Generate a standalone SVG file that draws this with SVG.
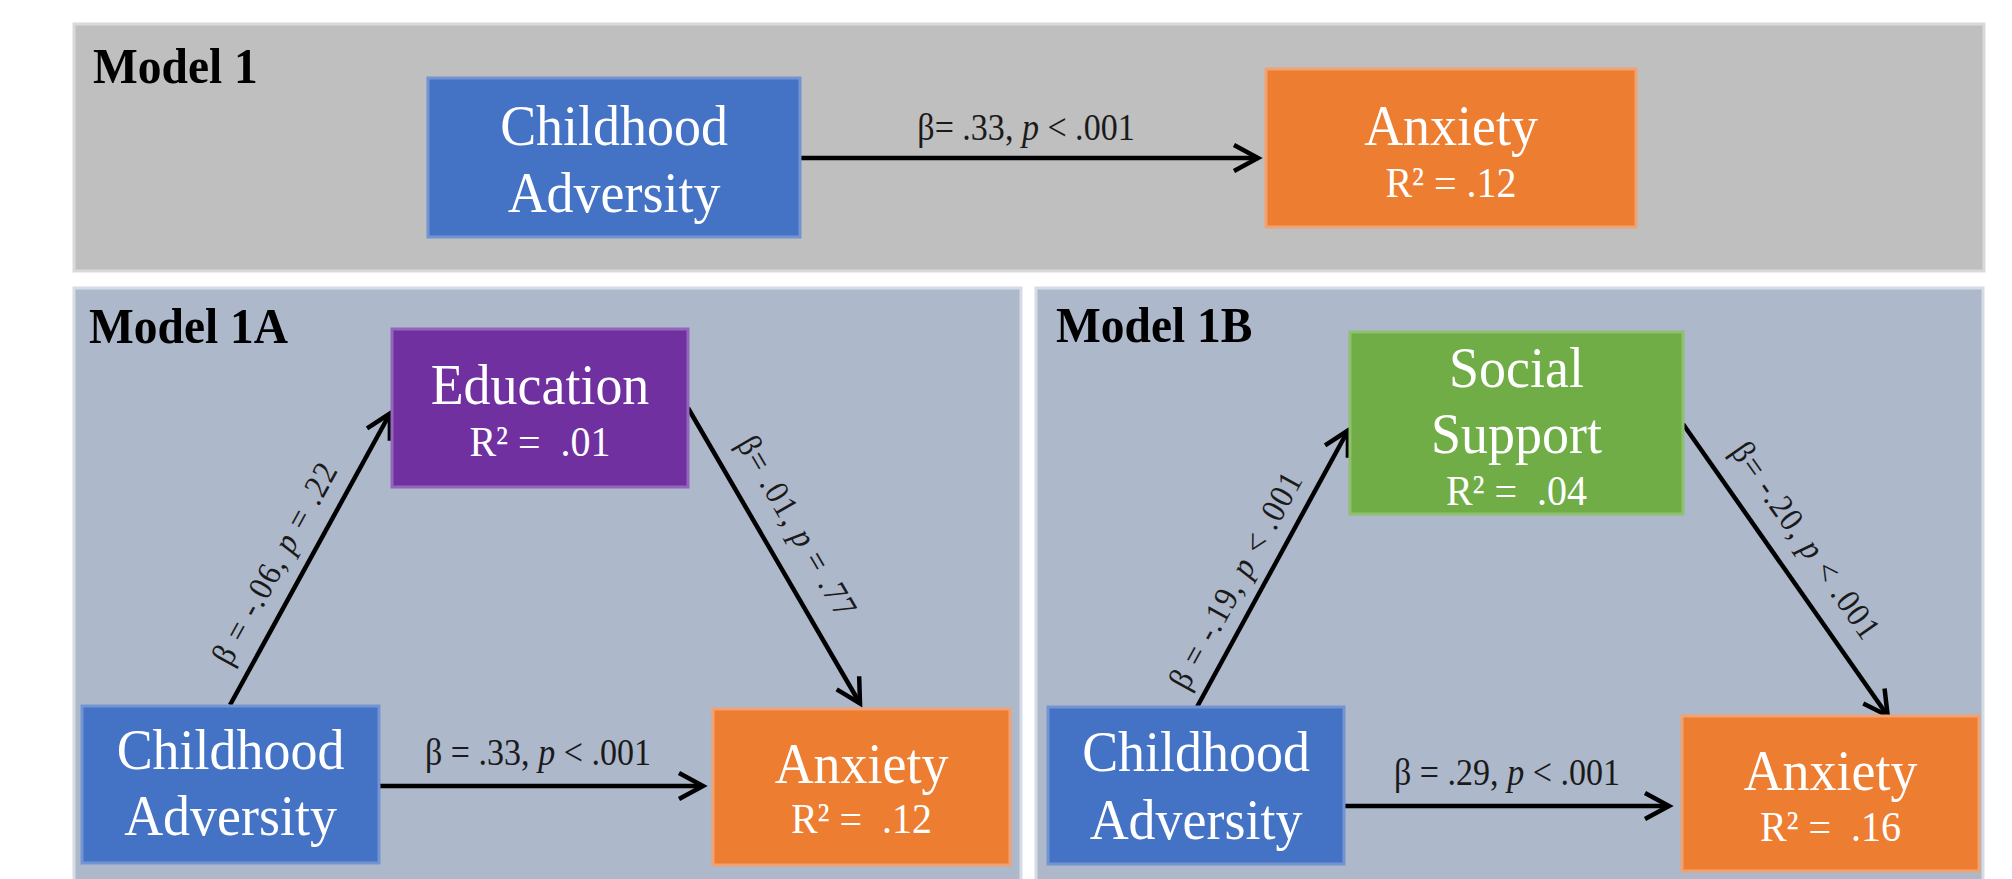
<svg xmlns="http://www.w3.org/2000/svg" width="2012" height="879" viewBox="0 0 2012 879">
<style>
.p1{fill:#bfbfbf;stroke:#d9d9d9;stroke-width:3}
.p2{fill:#adb8ca;stroke:#d6dce5;stroke-width:3}
.title{font-family:"Liberation Serif","Times New Roman",serif;font-weight:bold;font-size:50px;fill:#000}
.nt{font-family:"Liberation Serif","Times New Roman",serif;font-size:58px;fill:#fff;text-anchor:middle}
.r2{font-size:43px}
.lab{font-family:"Liberation Serif","Times New Roman",serif;font-size:37px;fill:#1a1a1a;text-anchor:middle}
.rl{font-size:34px;letter-spacing:1.5px}
.edge{stroke:#000;stroke-width:4.5;fill:none;marker-end:url(#ah)}
.blue{fill:#4472c4;stroke:#7393d2;stroke-width:3}
.orange{fill:#ed7d31;stroke:#f0a272;stroke-width:3}
.purple{fill:#7030a0;stroke:#9466bb;stroke-width:3}
.green{fill:#70ad47;stroke:#8fc06f;stroke-width:3}
</style>
<defs>
<marker id="ah" markerUnits="userSpaceOnUse" markerWidth="40" markerHeight="40" viewBox="-32 -20 40 40" refX="0" refY="0" orient="auto">
<path d="M-24,-13 L0,0 L-24,13" fill="none" stroke="#000" stroke-width="4.5" stroke-linejoin="miter"/>
</marker>
</defs>
<rect width="2012" height="879" fill="#fff"/>
<g id="panels">
<rect class="p1" x="74" y="24" width="1910" height="247"/>
<rect class="p2" x="74" y="288" width="947" height="620"/>
<rect class="p2" x="1036" y="288" width="947" height="620"/>
<text class="title" transform="translate(93,83) scale(0.95,1)">Model 1</text>
<text class="title" transform="translate(89,343) scale(0.95,1)">Model 1A</text>
<text class="title" transform="translate(1056,342) scale(0.95,1)">Model 1B</text>
</g>
<g id="connectors">
<path class="edge" d="M800,158 L1258,158"/>
<text class="lab" transform="translate(1026,140) scale(0.92,1)">β= .33, <tspan font-style="italic">p</tspan> &lt; .001</text>
<path class="edge" d="M230,705 L390,413.5"/>
<text class="lab rl" transform="translate(275,563) rotate(-61.2) scale(0.92,1)" x="0" y="11">β = -.06, <tspan font-style="italic">p</tspan> = .22</text>
<path class="edge" d="M688,408 L860,703.5"/>
<text class="lab rl" transform="translate(797,527) rotate(59.8) scale(0.92,1)" x="0" y="11">β= .01, <tspan font-style="italic">p</tspan> = .77</text>
<path class="edge" d="M379,786 L703,786"/>
<text class="lab" transform="translate(538,765) scale(0.92,1)">β = .33, <tspan font-style="italic">p</tspan> &lt; .001</text>
<path class="edge" d="M1197,707 L1348,430.5"/>
<text class="lab rl" transform="translate(1236,580) rotate(-61.3) scale(0.92,1)" x="0" y="11">β = -.19, <tspan font-style="italic">p</tspan> &lt; .001</text>
<path class="edge" d="M1683,424 L1887.7,715.7"/>
<text class="lab rl" transform="translate(1806,541) rotate(54.9) scale(0.92,1)" x="0" y="11">β= -.20, <tspan font-style="italic">p</tspan> &lt; .001</text>
<path class="edge" d="M1344,806 L1669,806"/>
<text class="lab" transform="translate(1507,785) scale(0.92,1)">β = .29, <tspan font-style="italic">p</tspan> &lt; .001</text>
</g>
<g id="m1-adversity">
<rect class="blue" x="428" y="78" width="372" height="159"/>
<text class="nt" transform="translate(614,145) scale(0.93,1)">Childhood</text>
<text class="nt" transform="translate(614,212) scale(0.93,1)">Adversity</text>
</g>
<g id="m1-anxiety">
<rect class="orange" x="1266" y="69" width="370" height="158"/>
<text class="nt" transform="translate(1451,145) scale(0.93,1)">Anxiety</text>
<text class="nt r2" transform="translate(1451,197) scale(0.93,1)">R² = .12</text>
</g>
<g id="m1a-education">
<rect class="purple" x="392" y="329" width="296" height="158"/>
<text class="nt" transform="translate(540,404) scale(0.93,1)">Education</text>
<text class="nt r2" transform="translate(540,456) scale(0.93,1)" xml:space="preserve">R² =  .01</text>
</g>
<g id="m1a-adversity">
<rect class="blue" x="82" y="706" width="297" height="157"/>
<text class="nt" transform="translate(230.5,769) scale(0.93,1)">Childhood</text>
<text class="nt" transform="translate(230.5,835) scale(0.93,1)">Adversity</text>
</g>
<g id="m1a-anxiety">
<rect class="orange" x="713" y="709" width="297" height="156"/>
<text class="nt" transform="translate(861.5,783) scale(0.93,1)">Anxiety</text>
<text class="nt r2" transform="translate(861.5,833) scale(0.93,1)" xml:space="preserve">R² =  .12</text>
</g>
<g id="m1b-support">
<rect class="green" x="1350" y="332" width="333" height="182"/>
<text class="nt" transform="translate(1516.5,387) scale(0.93,1)">Social</text>
<text class="nt" transform="translate(1516.5,453) scale(0.93,1)">Support</text>
<text class="nt r2" transform="translate(1516.5,505) scale(0.93,1)" xml:space="preserve">R² =  .04</text>
</g>
<g id="m1b-adversity">
<rect class="blue" x="1048" y="707" width="296" height="157"/>
<text class="nt" transform="translate(1196,771) scale(0.93,1)">Childhood</text>
<text class="nt" transform="translate(1196,839) scale(0.93,1)">Adversity</text>
</g>
<g id="m1b-anxiety">
<rect class="orange" x="1682" y="716" width="297" height="155"/>
<text class="nt" transform="translate(1830.5,790) scale(0.93,1)">Anxiety</text>
<text class="nt r2" transform="translate(1830.5,841) scale(0.93,1)" xml:space="preserve">R² =  .16</text>
</g>
</svg>
